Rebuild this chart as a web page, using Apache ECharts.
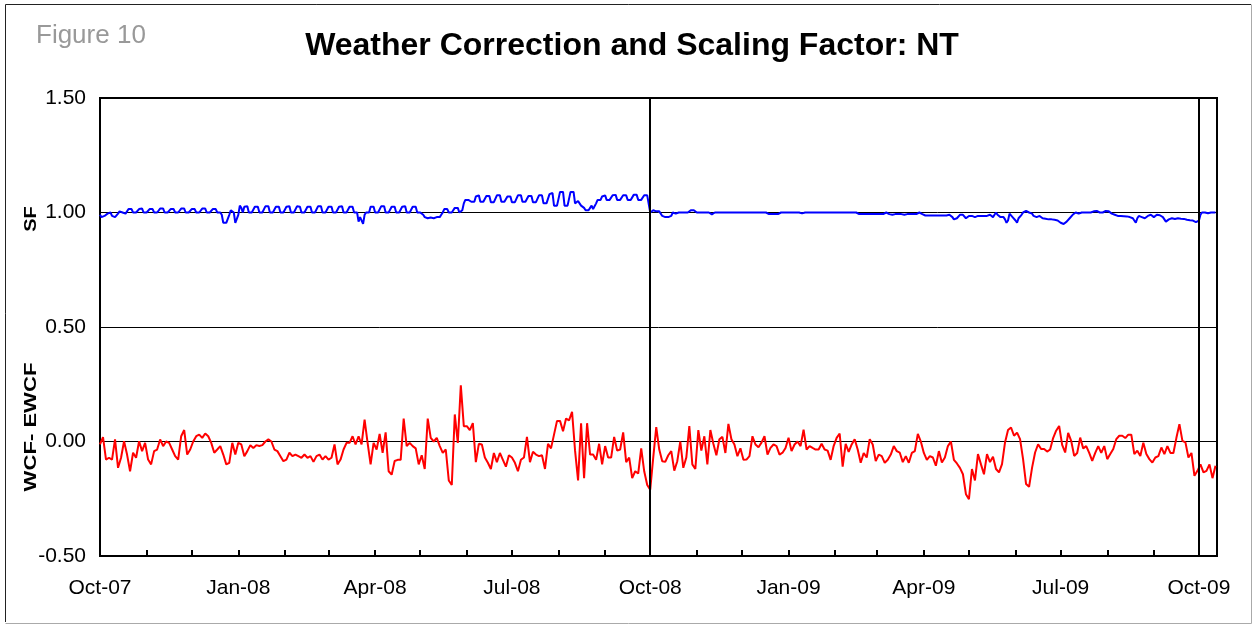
<!DOCTYPE html>
<html><head><meta charset="utf-8">
<script src="https://cdn.jsdelivr.net/npm/echarts@6/dist/echarts.min.js"></script>
<style>html,body{margin:0;padding:0;background:#fff}#c{width:1255px;height:626px}</style>
</head><body><div id="c"></div><script>
// ---- data ----
const startDate = Date.UTC(2007, 9, 1);   // first daily value: 1 Oct 2007
const endDate = Date.UTC(2009, 9, 13);
const DAY = 86400000;
const monthNames = ['Jan','Feb','Mar','Apr','May','Jun','Jul','Aug','Sep','Oct','Nov','Dec'];
const yTicks = [-0.5, 0, 0.5, 1.0, 1.5];
const markerDates = [Date.UTC(2008, 9, 1), Date.UTC(2009, 9, 1)];

// SF, daily values from 1 Oct 2007 (one row per week, Mon..Sun)
const sfValues = [
0.99,0.98,0.98,0.985,0.98,0.995,1.0,
1.0,0.985,0.98,0.98,0.98,0.995,1.005,
1.01,1.0,1.0,0.995,1.0,1.015,1.015,
1.015,1.0,1.0,1.0,1.0,1.015,1.017,
1.017,1.0,1.0,1.0,1.0,1.015,1.015,
1.015,1.0,1.0,1.0,0.998,1.017,1.017,
1.017,1.0,1.0,1.0,1.0,1.015,1.015,
1.015,1.0,1.0,1.0,1.0,1.017,1.017,
1.017,1.0,0.998,1.0,1.0,1.015,1.015,
1.015,1.0,1.0,1.0,1.0,1.017,1.017,
1.017,1.0,1.0,1.0,1.0,1.015,1.015,
1.015,1.0,1.0,1.0,0.99,0.955,0.955,
0.955,0.955,0.99,1.01,1.01,1.0,0.955,
0.95,0.99,1.03,1.02,1.0,1.025,1.025,
1.027,1.0,1.0,1.0,1.0,1.025,1.025,
1.025,1.0,1.0,1.0,1.0,1.027,1.027,
1.027,1.0,1.0,1.0,1.0,1.025,1.025,
1.025,1.0,1.0,1.0,1.0,1.025,1.025,
1.027,1.0,1.0,1.0,1.0,1.027,1.027,
1.025,1.0,1.0,1.0,1.0,1.025,1.025,
1.025,1.0,1.0,1.0,1.0,1.027,1.027,
1.027,1.0,1.0,1.0,1.0,1.025,1.025,
1.025,1.0,1.0,1.0,1.0,1.025,1.025,
1.027,1.0,1.0,1.0,1.0,1.025,1.025,
1.025,1.0,1.0,1.0,0.96,0.98,0.975,
0.95,0.99,1.0,1.0,1.0,1.025,1.025,
1.025,1.0,1.0,1.0,1.0,1.027,1.027,
1.027,1.0,1.0,1.0,1.0,1.025,1.025,
1.025,1.0,1.0,1.0,1.0,1.025,1.025,
1.027,1.0,1.0,1.0,1.0,1.025,1.025,
1.025,1.0,1.0,1.0,1.0,0.99,0.98,
0.975,0.975,0.975,0.978,0.975,0.975,0.98,
0.98,0.975,0.98,0.99,1.0,1.015,1.015,
1.015,1.0,1.0,1.0,1.0,1.02,1.028,
1.02,1.0,1.0,1.01,1.04,1.055,1.055,
1.055,1.047,1.047,1.047,1.047,1.07,1.07,
1.075,1.047,1.047,1.047,1.047,1.072,1.072,
1.072,1.045,1.045,1.045,1.045,1.075,1.075,
1.075,1.047,1.047,1.047,1.047,1.07,1.07,
1.07,1.045,1.045,1.045,1.045,1.075,1.075,
1.075,1.047,1.047,1.047,1.047,1.072,1.072,
1.072,1.045,1.045,1.045,1.045,1.075,1.075,
1.075,1.04,1.04,1.04,1.04,1.08,1.085,
1.085,1.03,1.03,1.03,1.03,1.09,1.09,
1.09,1.03,1.03,1.03,1.03,1.09,1.09,
1.09,1.04,1.04,1.05,1.04,1.03,1.025,
1.02,1.01,1.01,1.01,1.02,1.03,1.015,
1.02,1.04,1.055,1.055,1.055,1.07,1.075,
1.075,1.055,1.055,1.055,1.055,1.075,1.075,
1.077,1.055,1.055,1.055,1.055,1.075,1.075,
1.075,1.055,1.055,1.055,1.055,1.077,1.077,
1.077,1.055,1.055,1.055,1.055,1.075,1.075,
1.075,1.07,1.0,1.0,1.01,1.01,1.005,
1.01,1.005,1.0,0.985,0.98,0.98,0.98,
0.98,0.98,0.985,1.0,1.0,0.995,1.0,
1.0,0.995,1.0,1.0,1.0,0.992,1.0,
1.0,1.01,1.01,1.01,1.01,1.0,1.0,
1.0,0.992,1.0,1.0,1.0,1.0,1.0,
1.0,0.992,1.0,1.0,1.0,1.0,1.0,
1.0,1.0,1.0,1.0,1.0,0.995,1.0,
1.0,1.0,1.0,1.0,1.0,1.0,1.0,
1.0,1.0,1.0,1.0,1.0,1.0,1.0,
1.0,1.0,1.0,1.0,1.0,1.0,1.0,
1.0,1.0,1.0,1.0,0.993,0.993,0.993,
0.993,0.993,0.993,0.993,0.993,1.0,1.0,
1.0,1.0,1.0,1.0,1.0,1.0,1.0,
1.0,1.0,1.0,1.0,1.0,0.996,1.0,
1.0,1.0,1.0,1.0,1.0,1.0,1.0,
1.0,1.0,1.0,1.0,0.996,1.0,1.0,
1.0,1.0,1.0,1.0,1.0,1.0,1.0,
1.0,1.0,1.0,1.0,1.0,1.0,1.0,
1.0,1.0,1.0,1.0,1.0,1.0,1.0,
1.0,0.993,0.993,0.993,0.993,0.993,0.993,
0.993,0.993,0.993,0.993,0.993,0.993,0.993,
0.993,0.993,0.993,0.993,0.993,1.0,1.0,
0.993,0.993,0.99,0.993,0.993,0.99,0.993,
0.993,0.993,0.995,0.99,0.993,0.993,0.993,
0.993,0.995,0.993,0.993,0.993,1.0,1.0,
1.0,0.993,0.99,0.987,0.987,0.987,0.987,
0.987,0.987,0.987,0.987,0.987,0.987,0.987,
0.987,0.987,0.987,0.987,0.987,0.99,0.993,
0.98,0.97,0.97,0.975,0.98,0.99,0.99,
0.99,0.985,0.975,0.98,0.985,0.99,0.985,
0.985,0.98,0.98,0.985,0.985,0.985,0.99,
0.985,0.985,0.985,0.985,0.99,0.985,0.98,
0.99,1.0,0.99,0.985,0.98,0.98,0.98,
0.97,0.955,0.965,0.995,0.99,0.98,0.975,
0.965,0.955,0.975,0.98,0.99,1.0,1.0,
1.007,1.0,1.0,1.0,0.995,0.985,0.98,
0.98,0.985,0.985,0.98,0.975,0.975,0.973,
0.97,0.97,0.97,0.97,0.97,0.968,0.967,
0.965,0.96,0.955,0.95,0.95,0.955,0.96,
0.965,0.975,0.98,0.99,0.995,1.0,0.995,
0.995,0.995,1.0,1.0,1.0,1.0,1.0,
1.0,1.0,1.002,1.005,1.005,1.007,1.0,
1.0,1.0,1.0,1.0,1.007,1.005,1.005,
1.0,0.995,0.993,0.99,0.99,0.985,0.985,
0.985,0.985,0.984,0.983,0.983,0.982,0.98,
0.98,0.975,0.965,0.955,0.975,0.985,0.985,
0.98,0.978,0.975,0.98,0.985,0.99,0.99,
0.985,0.98,0.98,0.99,0.99,0.988,0.985,
0.98,0.97,0.96,0.955,0.97,0.975,0.975,
0.972,0.972,0.974,0.975,0.975,0.973,0.972,
0.972,0.97,0.968,0.968,0.966,0.96,0.965,
0.965,0.958,0.95,0.965,0.99,1.0,1.0,
1.0,1.0,0.997,1.0,1.0,1.0,1.0,
1.0
];

// WCF - EWCF, one value every 2 days from 1 Oct 2007
const wcfStepDays = 2;
const wcfValues = [
-0.013,0.019,-0.079,-0.071,-0.079,0.009,-0.115,-0.071,0.001,-0.057,
-0.13,-0.049,-0.071,0.001,-0.042,-0.006,-0.079,-0.10,-0.042,-0.035,
0.009,-0.02,0.0,-0.006,-0.035,-0.064,-0.079,0.023,0.05,-0.057,
-0.035,0.0,0.023,0.03,0.016,0.035,0.023,-0.006,-0.049,-0.035,
-0.02,-0.057,-0.10,-0.093,-0.006,-0.057,-0.006,-0.013,-0.064,-0.042,
-0.016,-0.028,-0.016,-0.02,-0.016,0.0,0.009,0.0,-0.035,-0.042,
-0.064,-0.086,-0.079,-0.049,-0.064,-0.057,-0.064,-0.071,-0.057,-0.071,
-0.064,-0.089,-0.064,-0.057,-0.079,-0.064,-0.079,-0.071,-0.013,-0.10,
-0.079,-0.035,-0.006,-0.006,0.023,-0.013,0.023,-0.013,0.096,-0.006,
-0.10,-0.006,-0.035,0.033,
-0.05,0.04,-0.13,-0.145,-0.085,-0.08,-0.08,0.10,-0.02,-0.006,
-0.02,-0.03,-0.10,-0.06,-0.12,0.10,0.016,0.0,0.016,-0.02,
-0.05,-0.035,-0.17,-0.19,0.118,-0.006,0.245,0.067,0.067,0.05,
0.08,-0.09,-0.01,-0.013,-0.07,-0.093,-0.12,-0.05,-0.09,-0.05,
-0.08,-0.11,-0.06,-0.07,-0.093,-0.13,-0.08,-0.07,0.02,-0.09,
-0.045,-0.057,-0.064,-0.06,-0.12,-0.01,-0.03,0.03,0.09,0.09,
0.045,0.1,0.092,0.13,-0.04,-0.17,0.08,-0.16,0.08,-0.057,
-0.057,-0.08,-0.01,-0.10,-0.02,-0.07,-0.07,0.02,-0.04,-0.035,
0.04,-0.09,-0.07,-0.16,-0.13,-0.14,-0.03,-0.13,-0.19,-0.21,
-0.07,0.063,-0.035,-0.086,-0.089,-0.06,-0.042,-0.127,-0.086,0.0,
-0.115,-0.07,0.067,-0.1,-0.12,0.05,-0.04,0.023,-0.1,0.05,
-0.01,-0.06,0.01,0.02,-0.05,0.077,0.01,-0.013,-0.064,-0.03,
-0.08,-0.079,-0.064,0.023,-0.013,-0.025,-0.005,0.023,-0.057,-0.028,
-0.013,-0.02,-0.057,-0.049,-0.028,0.016,-0.042,-0.013,0.0,-0.02,
0.052,-0.035,-0.02,-0.028,-0.035,-0.035,-0.01,-0.035,-0.04,-0.08,
-0.02,0.016,0.035,-0.11,-0.01,-0.045,-0.013,0.01,-0.035,-0.093,
-0.05,-0.07,0.01,-0.013,-0.086,-0.057,-0.064,-0.093,-0.08,-0.057,
-0.02,-0.042,-0.049,-0.09,-0.064,-0.093,-0.05,-0.042,0.033,0.0,
-0.05,-0.08,-0.064,-0.07,
-0.106,-0.042,-0.092,-0.07,-0.02,0.0,-0.08,-0.096,-0.115,-0.143,
-0.23,-0.252,-0.12,-0.17,-0.055,-0.1,-0.143,-0.055,-0.09,-0.067,
-0.12,-0.135,-0.099,-0.004,0.05,0.061,0.025,0.039,0.01,-0.077,
-0.186,-0.198,-0.114,-0.048,-0.012,-0.033,-0.033,-0.044,-0.035,0.015,
0.047,0.068,-0.015,-0.048,0.038,0.003,-0.063,-0.05,0.017,-0.03,
-0.02,-0.05,-0.085,-0.05,-0.02,-0.05,-0.02,-0.077,-0.055,-0.033,
0.01,0.025,0.025,0.015,0.03,0.03,-0.055,-0.04,-0.063,-0.005,
-0.055,-0.077,-0.092,-0.07,-0.064,-0.026,-0.055,-0.02,-0.05,-0.05,
0.016,0.076,0.003,-0.004,-0.07,-0.05,-0.15,-0.128,-0.1,-0.135,
-0.128,-0.1,-0.16,-0.106
];

// ---- build ----
const sfData = sfValues.map((v, i) => [startDate + i * DAY, v]);
const wcfData = wcfValues.map((v, i) => [startDate + i * wcfStepDays * DAY, v]);
const monthTicks = [];
for (let m = 0; m <= 24; m++) monthTicks.push(Date.UTC(2007, 9 + m, 1));
const quarterTicks = monthTicks.filter((t, i) => i % 3 === 0);
function fmtMonth(v) {
  const d = new Date(v);
  return monthNames[d.getUTCMonth()] + '-' + String(d.getUTCFullYear() % 100).padStart(2, '0');
}

const FONT = '"Liberation Sans", Arial, Helvetica, sans-serif';
const chart = echarts.init(document.getElementById('c'), null, {renderer: 'canvas'});
chart.setOption({
  animation: false,
  backgroundColor: '#fff',
  textStyle: {fontFamily: FONT},
  grid: {left: 100, top: 98, width: 1117, height: 458, show: true, borderColor: '#000', borderWidth: 2, outerBoundsMode: 'none'},
  xAxis: {
    type: 'value', min: startDate, max: endDate, scale: true,
    axisLine: {show: true, onZero: false, lineStyle: {color: '#000', width: 2}},
    axisTick: {show: true, inside: true, length: 6, customValues: monthTicks, lineStyle: {color: '#000', width: 2}},
    axisLabel: {show: true, customValues: quarterTicks, formatter: fmtMonth, color: '#000', fontSize: 21, fontFamily: FONT, margin: 22, hideOverlap: false},
    splitLine: {show: false}
  },
  yAxis: {
    type: 'value', min: -0.5, max: 1.5, interval: 0.5,
    axisLine: {show: true, onZero: false, lineStyle: {color: '#000', width: 2}},
    axisTick: {show: false},
    axisLabel: {color: '#000', fontSize: 21, fontFamily: FONT, margin: 14, formatter: v => v.toFixed(2)},
    splitLine: {show: true, lineStyle: {color: '#000', width: 1}}
  },
  series: [
    {type: 'line', name: 'SF', data: sfData, symbol: 'none', lineStyle: {color: '#0000ff', width: 2}, itemStyle: {color: '#0000ff'}, silent: true,
     markLine: {silent: true, symbol: ['none', 'none'], label: {show: false}, lineStyle: {color: '#000', width: 2, type: 'solid'},
       data: markerDates.map(t => ({xAxis: t}))}},
    {type: 'line', name: 'WCF- EWCF', data: wcfData, symbol: 'none', lineStyle: {color: '#ff0000', width: 2}, itemStyle: {color: '#ff0000'}, silent: true}
  ],
  graphic: [
    {type: 'polyline', shape: {points: [[5.5, 622], [5.5, 4.5], [1251, 4.5]]}, style: {stroke: '#222', lineWidth: 1, fill: null}},
    {type: 'polyline', shape: {points: [[1251.5, 4.5], [1251.5, 623.5], [5.5, 623.5]]}, style: {stroke: '#aaa', lineWidth: 1, fill: null}},
    {type: 'text', x: 36, y: 36, style: {text: 'Figure 10', fontSize: 26, fontFamily: FONT, fill: '#999', textVerticalAlign: 'middle'}},
    {type: 'text', x: 632, y: 46, style: {text: 'Weather Correction and Scaling Factor: NT', fontSize: 32, fontWeight: 'bold', fontFamily: FONT, fill: '#000', textAlign: 'center', textVerticalAlign: 'middle'}},
    {type: 'text', x: 32, y: 219, rotation: Math.PI / 2, scaleX: 1.25, style: {text: 'SF', fontSize: 16, fontWeight: 'bold', fontFamily: FONT, fill: '#000', textAlign: 'center', textVerticalAlign: 'middle'}},
    {type: 'text', x: 32, y: 427, rotation: Math.PI / 2, scaleX: 1.38, style: {text: 'WCF- EWCF', fontSize: 16, fontWeight: 'bold', fontFamily: FONT, fill: '#000', textAlign: 'center', textVerticalAlign: 'middle'}}
  ]
});
</script></body></html>
